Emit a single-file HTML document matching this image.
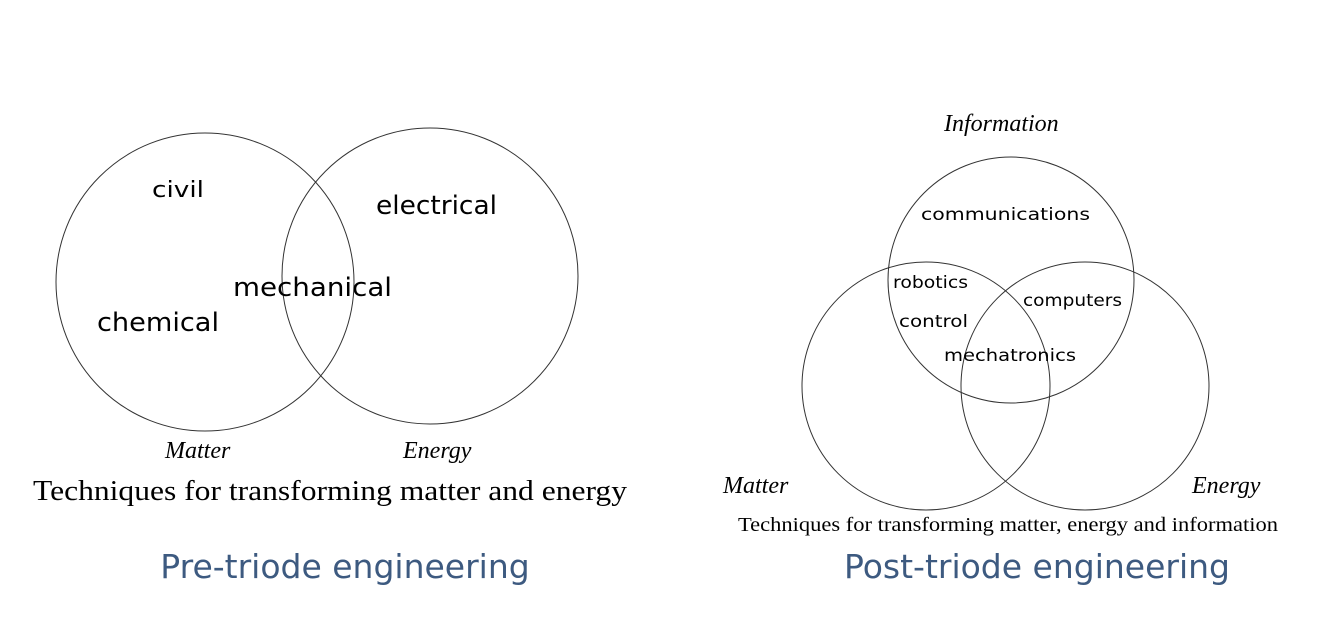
<!DOCTYPE html>
<html><head><meta charset="utf-8"><style>
html,body{margin:0;padding:0;background:#fff;}
body{width:1339px;height:622px;overflow:hidden;}
</style></head><body>
<svg width="1339" height="622" xmlns="http://www.w3.org/2000/svg">
<g fill="none" stroke="#333" stroke-width="1">
<circle cx="205" cy="282" r="149"/>
<circle cx="430" cy="276" r="148"/>
<circle cx="1011" cy="280" r="123"/>
<circle cx="926" cy="386" r="124"/>
<circle cx="1085" cy="386" r="124"/>
</g>
<g font-family="DejaVu Sans, sans-serif" fill="#000" lengthAdjust="spacingAndGlyphs">
<text x="152" y="197" font-size="22" textLength="52" lengthAdjust="spacingAndGlyphs">civil</text>
<text x="376" y="214" font-size="26" textLength="121" lengthAdjust="spacingAndGlyphs">electrical</text>
<text x="233" y="296" font-size="26" textLength="159" lengthAdjust="spacingAndGlyphs">mechanical</text>
<text x="97" y="331" font-size="26" textLength="122" lengthAdjust="spacingAndGlyphs">chemical</text>
<text x="921" y="220" font-size="17" textLength="169" lengthAdjust="spacingAndGlyphs">communications</text>
<text x="893" y="288" font-size="17" textLength="75" lengthAdjust="spacingAndGlyphs">robotics</text>
<text x="1023" y="306" font-size="17" textLength="99" lengthAdjust="spacingAndGlyphs">computers</text>
<text x="899" y="327" font-size="17" textLength="69" lengthAdjust="spacingAndGlyphs">control</text>
<text x="944" y="361" font-size="17" textLength="132" lengthAdjust="spacingAndGlyphs">mechatronics</text>
</g>
<g font-family="Liberation Serif, serif" font-style="italic" fill="#000" font-size="24">
<text x="165" y="458">Matter</text>
<text x="403" y="458">Energy</text>
<text x="944" y="131">Information</text>
<text x="723" y="493">Matter</text>
<text x="1192" y="493">Energy</text>
</g>
<g font-family="Liberation Serif, serif" fill="#000">
<text x="33" y="500" font-size="29" textLength="594" lengthAdjust="spacingAndGlyphs">Techniques for transforming matter and energy</text>
<text x="738" y="531" font-size="20" textLength="540" lengthAdjust="spacingAndGlyphs">Techniques for transforming matter, energy and information</text>
</g>
<g font-family="DejaVu Sans, Liberation Sans, sans-serif" fill="#3d5a80" font-size="33">
<text x="345" y="578" text-anchor="middle">Pre-triode engineering</text>
<text x="1037" y="578" text-anchor="middle">Post-triode engineering</text>
</g>
</svg>
</body></html>
